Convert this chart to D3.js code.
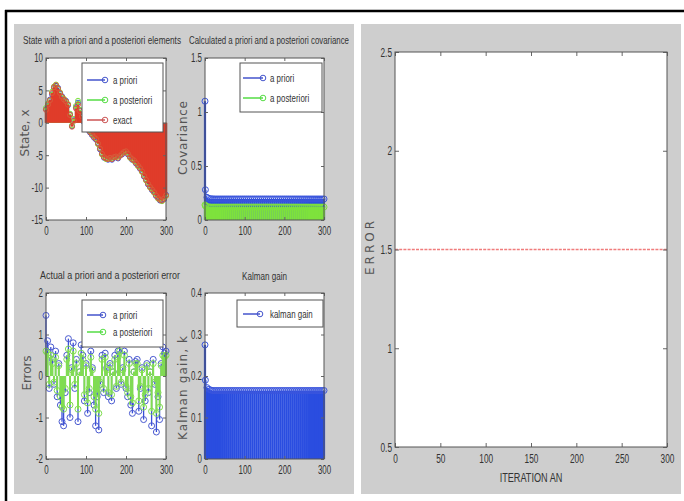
<!DOCTYPE html>
<html>
<head>
<meta charset="utf-8">
<script src="https://cdn.jsdelivr.net/npm/d3@7"></script>
<style>
  body { margin: 0; background: #fff; }
  text { font-family: "Liberation Sans", "DejaVu Sans", sans-serif; fill: #333; }
  .lab { font-family: "DejaVu Sans", sans-serif; fill: #555; }
</style>
</head>
<body>
<script>
// ---- data ----
// state (every 5th iteration)
var stateExact = [2.0, 2.8, 3.5, 4.6, 5.5, 5.8, 5.3, 4.6, 4.0, 3.6, 3.3, 2.8, 1.2, -0.6, 0.3, 2.2, 2.8, 1.8, 1.0, 0.2,
  -0.5, -1.0, -1.4, -1.8, -2.2, -2.5, -3.2, -4.0, -4.8, -5.3, -5.5, -5.6, -5.4, -5.6, -5.3, -5.2, -5.4, -5.1, -4.8, -4.5,
  -4.4, -4.8, -5.3, -5.6, -5.8, -6.2, -6.6, -7.0, -7.5, -8.2, -8.8, -9.4, -9.9, -10.3, -10.7, -11.2, -11.6, -11.9, -12.0, -11.7, -11.2];
var statePost = [2.3, 3.0, 3.4, 4.8, 5.6, 5.9, 5.2, 4.7, 3.9, 3.7, 3.2, 2.9, 1.4, -0.4, 0.6, 2.6, 3.4, 2.0, 1.1, 0.3,
  -0.4, -0.9, -1.3, -1.7, -2.0, -2.4, -3.3, -3.9, -4.9, -5.1, -5.6, -5.4, -5.5, -5.4, -5.1, -5.3, -5.2, -4.9, -4.6, -4.3,
  -4.5, -4.6, -5.4, -5.4, -5.9, -6.0, -6.7, -6.8, -7.6, -8.0, -8.9, -9.2, -10.0, -10.1, -10.8, -11.0, -11.7, -11.7, -12.1, -11.5, -11.3];
var statePrior = [2.1, 2.6, 3.6, 4.4, 5.4, 5.7, 5.4, 4.5, 4.1, 3.5, 3.4, 2.7, 1.3, -0.5, 0.4, 2.4, 3.1, 1.9, 0.9, 0.1,
  -0.6, -1.1, -1.5, -1.9, -2.3, -2.6, -3.1, -4.1, -4.7, -5.4, -5.4, -5.7, -5.3, -5.7, -5.4, -5.1, -5.5, -5.0, -4.9, -4.4,
  -4.3, -4.9, -5.2, -5.7, -5.7, -6.3, -6.5, -7.1, -7.4, -8.3, -8.7, -9.5, -9.8, -10.4, -10.6, -11.3, -11.5, -12.0, -11.9, -11.8, -11.1];

// covariance and gain: iterations 0, 1, then every 5th
var covPrior = [1.1, 0.28, 0.21, 0.2, 0.197, 0.196, 0.195, 0.195, 0.195, 0.195, 0.195, 0.195, 0.195, 0.195, 0.195, 0.195,
  0.195, 0.195, 0.195, 0.195, 0.195, 0.195, 0.195, 0.195, 0.195, 0.195, 0.195, 0.195, 0.195, 0.195, 0.195, 0.195,
  0.195, 0.195, 0.195, 0.195, 0.195, 0.195, 0.195, 0.195, 0.195, 0.195, 0.195, 0.195, 0.195, 0.195, 0.195, 0.195,
  0.195, 0.195, 0.195, 0.195, 0.195, 0.195, 0.195, 0.195, 0.195, 0.195, 0.195, 0.195, 0.195, 0.195];
var covPost = [0.14, 0.13, 0.125, 0.122, 0.12, 0.12, 0.12, 0.12, 0.12, 0.12, 0.12, 0.12, 0.12, 0.12, 0.12, 0.12,
  0.12, 0.12, 0.12, 0.12, 0.12, 0.12, 0.12, 0.12, 0.12, 0.12, 0.12, 0.12, 0.12, 0.12, 0.12, 0.12,
  0.12, 0.12, 0.12, 0.12, 0.12, 0.12, 0.12, 0.12, 0.12, 0.12, 0.12, 0.12, 0.12, 0.12, 0.12, 0.12,
  0.12, 0.12, 0.12, 0.12, 0.12, 0.12, 0.12, 0.12, 0.12, 0.12, 0.12, 0.12, 0.12, 0.12];
var gain = [0.275, 0.19, 0.172, 0.168, 0.166, 0.165, 0.165, 0.165, 0.165, 0.165, 0.165, 0.165, 0.165, 0.165, 0.165, 0.165,
  0.165, 0.165, 0.165, 0.165, 0.165, 0.165, 0.165, 0.165, 0.165, 0.165, 0.165, 0.165, 0.165, 0.165, 0.165, 0.165,
  0.165, 0.165, 0.165, 0.165, 0.165, 0.165, 0.165, 0.165, 0.165, 0.165, 0.165, 0.165, 0.165, 0.165, 0.165, 0.165,
  0.165, 0.165, 0.165, 0.165, 0.165, 0.165, 0.165, 0.165, 0.165, 0.165, 0.165, 0.165, 0.165, 0.165];

// errors (every 4th iteration)
var errPrior = [1.46, 0.85, -0.3, 0.7, 0.4, -0.2, 0.6, -0.5, 0.3, -0.7, -1.1, -1.2, -0.4, 0.5, 0.9, -1.0, 0.2, 0.8, -0.3, 0.4,
  -1.1, 0.1, 0.75, 0.5, -0.6, 0.3, -0.9, -0.4, 0.6, 0.2, -0.7, -1.2, -0.5, -1.3, -0.2, 0.5, -0.4, 0.55, 0.2, -0.5,
  0.3, -0.6, 0.1, 0.5, -0.3, 0.6, 0.8, -0.2, 0.2, 0.6, -0.3, -0.5, 0.4, -0.7, -0.9, 0.1, 0.35, 0.4, -0.85, -0.3,
  0.2, -1.05, -0.6, 0.3, -0.4, 0.1, -1.2, 0.4, -0.2, -1.35, -0.5, -1.05, 0.3, 0.7, 0.55, 0.6];
var errPost = [0.6, 0.55, -0.2, 0.5, 0.3, -0.15, 0.45, -0.35, 0.25, -0.5, -0.75, -0.8, -0.3, 0.4, 0.65, -0.7, 0.15, 0.6, -0.2, 0.3,
  -0.8, 0.1, 0.55, 0.4, -0.45, 0.25, -0.65, -0.3, 0.45, 0.15, -0.5, -0.8, -0.4, -0.9, -0.15, 0.4, -0.3, 0.45, 0.15, -0.4,
  0.25, -0.45, 0.1, 0.4, -0.25, 0.45, 0.6, -0.15, 0.15, 0.5, -0.25, -0.4, 0.3, -0.5, -0.65, 0.1, 0.3, 0.3, -0.6, -0.25,
  0.15, -0.75, -0.45, 0.25, -0.3, 0.1, -0.85, 0.3, -0.15, -0.9, -0.4, -0.75, 0.25, 0.5, 0.45, 0.5];

// right chart
var errorIter = [0, 300];
var errorVal = [1.5, 1.5];

var iterState = stateExact.map(function(d, i) { return i * 5; });
var iterCov = covPrior.map(function(d, i) { return i < 2 ? i : (i - 1) * 5; });
var iterErr = errPrior.map(function(d, i) { return i * 4; });

var W = 684, H = 501;
var svg = d3.select("body").append("svg").attr("width", W).attr("height", H);

// squeeze text horizontally so it looks like the narrow matlab font
function condense(sel, k) {
  sel.each(function() {
    var len = this.getComputedTextLength();
    if (len > 0) d3.select(this).attr("textLength", len * k).attr("lengthAdjust", "spacingAndGlyphs");
  });
}

// frame and grey panels
svg.append("rect").attr("x", 14).attr("y", 24).attr("width", 340).attr("height", 470).attr("fill", "#cecece");
svg.append("rect").attr("x", 361).attr("y", 24).attr("width", 320).attr("height", 470).attr("fill", "#cecece");
svg.append("line").attr("x1", 5).attr("x2", W).attr("y1", 11).attr("y2", 11).attr("stroke", "#000").attr("stroke-width", 2.5);
svg.append("line").attr("x1", 6).attr("x2", 6).attr("y1", 10).attr("y2", H).attr("stroke", "#000").attr("stroke-width", 2.5);

var fmt = function(d) { return String(d); };

function makeAxes(o) {
  var g = svg.append("g");
  g.append("rect").attr("x", o.x0).attr("y", o.y0).attr("width", o.x1 - o.x0).attr("height", o.y1 - o.y0).attr("fill", "#fff");
  var x = d3.scaleLinear().domain(o.xd).range([o.x0, o.x1]);
  var y = d3.scaleLinear().domain(o.yd).range([o.y1, o.y0]);
  var data = g.append("g");
  return { g: g, data: data, x: x, y: y, o: o };
}

function finishAxes(a) {
  var o = a.o, g = a.g, tl = o.tl || 3;
  var fs = o.fs || 12;
  g.append("g").attr("transform", "translate(0," + o.y1 + ")")
    .call(d3.axisBottom(a.x).tickValues(o.xt).tickSizeInner(-tl).tickSizeOuter(0).tickPadding(o.xpad || 6).tickFormat(fmt));
  g.append("g").attr("transform", "translate(0," + o.y0 + ")")
    .call(d3.axisTop(a.x).tickValues(o.xt).tickSizeInner(-tl).tickSizeOuter(0).tickFormat(""));
  g.append("g").attr("transform", "translate(" + o.x0 + ",0)")
    .call(d3.axisLeft(a.y).tickValues(o.yt).tickSizeInner(-tl).tickSizeOuter(0).tickPadding(3).tickFormat(fmt));
  g.append("g").attr("transform", "translate(" + o.x1 + ",0)")
    .call(d3.axisRight(a.y).tickValues(o.yt).tickSizeInner(-tl).tickSizeOuter(0).tickFormat(""));
  g.selectAll(".domain").remove();
  g.selectAll(".tick line").attr("stroke", "#666");
  var tt = g.selectAll(".tick text").attr("font-size", fs).attr("fill", "#3a3a3a")
    .style("font-family", '"Liberation Sans", sans-serif');
  condense(tt, 0.66);
  g.append("rect").attr("x", o.x0).attr("y", o.y0).attr("width", o.x1 - o.x0).attr("height", o.y1 - o.y0)
    .attr("fill", "none").attr("stroke", "#555").attr("stroke-width", 1);
  if (o.title) {
    g.append("text").attr("x", o.title.x).attr("y", o.title.y).attr("font-size", 10.5)
      .attr("textLength", o.title.len).attr("lengthAdjust", "spacingAndGlyphs").text(o.title.t);
  }
  if (o.ylab) {
    g.append("text").attr("class", "lab").attr("transform", "translate(" + o.ylab.x + "," + o.ylab.y + ") rotate(-90)")
      .attr("text-anchor", "middle").attr("font-size", o.ylab.fs || 12).attr("dy", "0.35em")
      .attr("textLength", o.ylab.len).attr("lengthAdjust", "spacing").text(o.ylab.t);
  }
}

function stems(a, xs, ys, color, w, r, mcolor) {
  var sel = a.data.append("g");
  sel.selectAll("line").data(ys).enter().append("line")
    .attr("x1", function(d, i) { return a.x(xs[i]); })
    .attr("x2", function(d, i) { return a.x(xs[i]); })
    .attr("y1", a.y(0))
    .attr("y2", function(d) { return a.y(d); })
    .attr("stroke", color).attr("stroke-width", w);
  sel.selectAll("circle").data(ys).enter().append("circle")
    .attr("cx", function(d, i) { return a.x(xs[i]); })
    .attr("cy", function(d) { return a.y(d); })
    .attr("r", r).attr("fill", "none").attr("stroke", mcolor || color).attr("stroke-width", 1);
}

function legend(box, items, lx0, lx1, tx) {
  var g = svg.append("g");
  g.append("rect").attr("x", box[0]).attr("y", box[1]).attr("width", box[2] - box[0]).attr("height", box[3] - box[1])
    .attr("fill", "#fff").attr("stroke", "#555").attr("stroke-width", 1);
  items.forEach(function(it) {
    g.append("line").attr("x1", lx0).attr("x2", lx1).attr("y1", it.y).attr("y2", it.y)
      .attr("stroke", it.c).attr("stroke-width", 1.5);
    g.append("circle").attr("cx", lx1).attr("cy", it.y).attr("r", 2.8).attr("fill", "none")
      .attr("stroke", it.c).attr("stroke-width", 1);
    var t = g.append("text").attr("x", tx).attr("y", it.y).attr("dy", "0.35em").attr("font-size", 11)
      .attr("fill", "#222").text(it.t);
    condense(t, 0.72);
  });
}

var BLUE = "#2a4de0", GREEN = "#7ee23c", RED = "#e03c2a";

// ---- subplot 1: state ----
var a1 = makeAxes({ x0: 46, x1: 166, y0: 58, y1: 220, xd: [0, 300], yd: [-15, 10],
  xt: [0, 100, 200, 300], yt: [-15, -10, -5, 0, 5, 10],
  title: { t: "State with a priori and a posteriori elements", x: 23, y: 44, len: 158 },
  ylab: { t: "State, x", x: 25, y: 133, len: 47 } });
stems(a1, iterState, statePrior, BLUE, 2.2, 2.5);
stems(a1, iterState, statePost, GREEN, 2.2, 2.5);
stems(a1, iterState, stateExact, RED, 2.4, 2.5, "#d85a3a");
finishAxes(a1);
legend([82, 63, 163, 132], [
  { t: "a priori", c: "#4455cc", y: 80 },
  { t: "a posteriori", c: "#55dd44", y: 100 },
  { t: "exact", c: "#cc5555", y: 120 }], 87, 105, 113);

// ---- subplot 2: covariance ----
var a2 = makeAxes({ x0: 205, x1: 324, y0: 58, y1: 220, xd: [0, 300], yd: [0, 1.5],
  xt: [0, 100, 200, 300], yt: [0, 0.5, 1, 1.5],
  title: { t: "Calculated a priori and a posteriori covariance", x: 189, y: 44, len: 160 },
  ylab: { t: "Covariance", x: 183, y: 138, len: 74 } });
stems(a2, iterCov, covPrior, BLUE, 2.2, 3, "#3a55dd");
stems(a2, iterCov, covPost, GREEN, 2.2, 3);
finishAxes(a2);
legend([240, 63, 322, 112], [
  { t: "a priori", c: "#4455cc", y: 78 },
  { t: "a posteriori", c: "#55dd44", y: 98 }], 243, 263, 270);

// ---- subplot 3: errors ----
var a3 = makeAxes({ x0: 46, x1: 166, y0: 293, y1: 459, xd: [0, 300], yd: [-2, 2],
  xt: [0, 100, 200, 300], yt: [-2, -1, 0, 1, 2],
  title: { t: "Actual a priori and a posteriori error", x: 40, y: 279, len: 140 },
  ylab: { t: "Errors", x: 27, y: 373, len: 35 } });
stems(a3, iterErr, errPrior, "#3a4fd8", 1.3, 3, "#4a5ad0");
stems(a3, iterErr, errPost, "#80dd50", 2, 3);
finishAxes(a3);
legend([82, 300, 163, 347], [
  { t: "a priori", c: "#4455cc", y: 315 },
  { t: "a posteriori", c: "#55dd44", y: 332 }], 87, 103, 113);

// ---- subplot 4: kalman gain ----
var a4 = makeAxes({ x0: 205, x1: 324, y0: 293, y1: 459, xd: [0, 300], yd: [0, 0.4],
  xt: [0, 100, 200, 300], yt: [0, 0.1, 0.2, 0.3, 0.4],
  title: { t: "Kalman gain", x: 242, y: 280, len: 45 },
  ylab: { t: "Kalman gain, k", x: 183, y: 388, len: 104 } });
stems(a4, iterCov, gain, BLUE, 2.2, 3, "#3a55dd");
finishAxes(a4);
legend([237, 300, 323, 327], [{ t: "kalman gain", c: "#4455cc", y: 314 }], 243, 260, 270);

// ---- right chart ----
var a5 = makeAxes({ x0: 395, x1: 667, y0: 52, y1: 447, xd: [0, 300], yd: [0.5, 2.5],
  xt: d3.range(0, 301, 50), yt: [0.5, 1, 1.5, 2, 2.5], tl: 4, fs: 12.5, xpad: 7,
  ylab: { t: "ERROR", x: 370, y: 248, len: 54 } });
a5.data.append("path")
  .datum(errorVal)
  .attr("d", d3.line().x(function(d, i) { return a5.x(errorIter[i]); }).y(function(d) { return a5.y(d); }))
  .attr("fill", "none").attr("stroke", "#f07c7c").attr("stroke-width", 1.4).attr("stroke-dasharray", "3,1.2");
finishAxes(a5);
var xl = svg.append("text").attr("x", 531).attr("y", 478).attr("text-anchor", "middle").attr("dy", "0.35em")
  .attr("font-size", 12).attr("fill", "#333").text("ITERATION AN");
condense(xl, 0.76);
</script>
</body>
</html>
